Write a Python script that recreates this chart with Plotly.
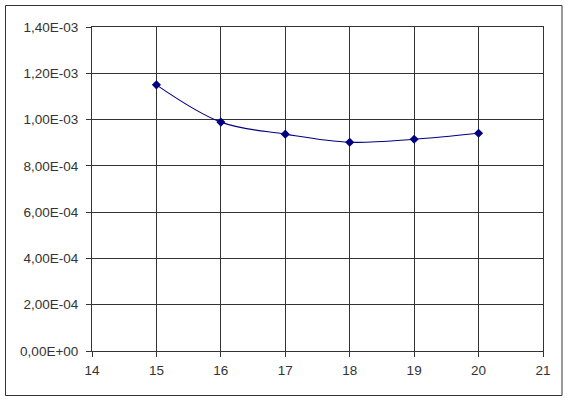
import plotly.graph_objects as go

x_vals = [15, 16, 17, 18, 19, 20]
y_vals = [1.150e-3, 0.989e-3, 0.937e-3, 0.902e-3, 0.915e-3, 0.941e-3]

y_tickvals = [0, 2e-4, 4e-4, 6e-4, 8e-4, 1.0e-3, 1.2e-3, 1.4e-3]
y_ticktext = ["0,00E+00", "2,00E-04", "4,00E-04", "6,00E-04", "8,00E-04",
              "1,00E-03", "1,20E-03", "1,40E-03"]
x_tickvals = [14, 15, 16, 17, 18, 19, 20, 21]

fig = go.Figure()
fig.add_trace(go.Scatter(
    x=x_vals, y=y_vals, mode="lines+markers",
    line=dict(color="#000080", width=1.1, shape="spline", smoothing=1.0),
    marker=dict(symbol="diamond", size=7, color="#000080"),
    showlegend=False,
))

L, R, T, B = 92, 25, 27, 49
W, H = 568, 400
pw, ph = W - L - R, H - T - B

fig.update_layout(
    width=W, height=H,
    margin=dict(l=L, r=R, t=T, b=B),
    paper_bgcolor="white", plot_bgcolor="white",
    font=dict(family="Liberation Sans, Arial, sans-serif", size=13.5, color="#333333"),
    shapes=[dict(
        type="rect", xref="paper", yref="paper",
        x0=(5.5 - L) / pw, x1=(562 - L) / pw,
        y0=(H - B - 395.5) / ph, y1=(H - B - 5.5) / ph,
        line=dict(color="#333333", width=1), fillcolor="rgba(0,0,0,0)",
        layer="below",
    )],
)
fig.update_xaxes(
    range=[14, 21], tickvals=x_tickvals, ticktext=[str(v) for v in x_tickvals],
    showgrid=True, gridcolor="#333333", gridwidth=1,
    showline=True, linecolor="#333333", linewidth=1, mirror=True,
    ticks="outside", ticklen=5, tickcolor="#333333", zeroline=False,
    ticklabelstandoff=2,
)
fig.update_yaxes(
    range=[0, 1.4e-3], tickvals=y_tickvals, ticktext=y_ticktext,
    showgrid=True, gridcolor="#333333", gridwidth=1,
    showline=True, linecolor="#333333", linewidth=1, mirror=True,
    ticks="outside", ticklen=5, tickcolor="#333333", zeroline=False,
    ticklabelstandoff=5,
)

fig.write_html("out.html", config={"displayModeBar": False},
               post_script="document.body.style.margin='0';")
